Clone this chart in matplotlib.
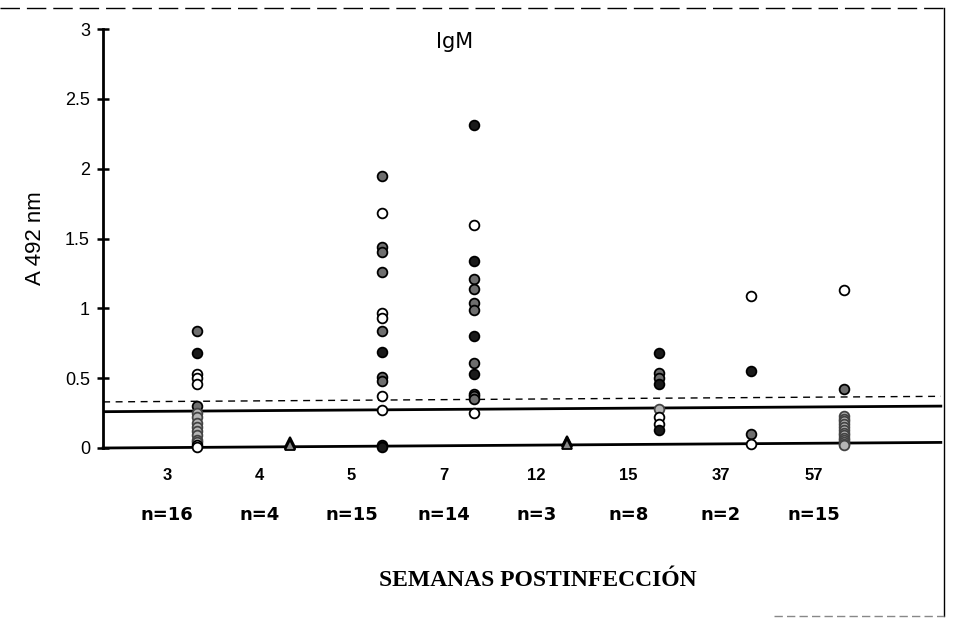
import matplotlib.pyplot as plt
from matplotlib.lines import Line2D

# weeks after infection, with group sizes
weeks = ['3', '4', '5', '7', '12', '15', '37', '57']
n_labels = ['n=16', 'n=4', 'n=15', 'n=14', 'n=3', 'n=8', 'n=2', 'n=15']

# absorbance values per week; kind: d=dark, h=hatched, o=open, g=grey, t=triangle
w3_vals = [0.84, 0.68, 0.53, 0.50, 0.46, 0.30, 0.25, 0.22, 0.18, 0.15, 0.12, 0.09, 0.06, 0.04, 0.02, 0.01]
w3_kind = ['h', 'd', 'o', 'o', 'o', 'h', 'g', 'g', 'g', 'g', 'g', 'g', 'g', 'g', 'o', 'o']
w4_vals = [0.04, 0.03, 0.03, 0.02]
w4_kind = ['t', 't', 't', 't']
w5_vals = [1.95, 1.68, 1.44, 1.40, 1.26, 0.97, 0.93, 0.84, 0.69, 0.51, 0.48, 0.37, 0.27, 0.02, 0.01]
w5_kind = ['h', 'o', 'h', 'h', 'h', 'o', 'o', 'h', 'd', 'h', 'h', 'o', 'o', 'd', 'd']
w7_vals = [2.31, 1.60, 1.34, 1.21, 1.14, 1.04, 0.99, 0.80, 0.61, 0.53, 0.39, 0.37, 0.35, 0.25]
w7_kind = ['d', 'o', 'd', 'h', 'h', 'h', 'h', 'd', 'h', 'd', 'h', 'h', 'h', 'o']
w12_vals = [0.05, 0.04, 0.03]
w12_kind = ['t', 't', 't']
w15_vals = [0.68, 0.54, 0.50, 0.46, 0.28, 0.22, 0.17, 0.13]
w15_kind = ['d', 'h', 'h', 'd', 'g', 'o', 'o', 'd']
w37_vals = [1.09, 0.55, 0.10, 0.03]
w37_kind = ['o', 'd', 'h', 'o']
w57_vals = [1.13, 0.42, 0.23, 0.21, 0.19, 0.17, 0.15, 0.13, 0.11, 0.09, 0.07, 0.06, 0.04, 0.03, 0.02]
w57_kind = ['o', 'h', 'g', 'g', 'g', 'g', 'g', 'g', 'g', 'g', 'g', 'g', 'g', 'g', 'g']

all_vals = [w3_vals, w4_vals, w5_vals, w7_vals, w12_vals, w15_vals, w37_vals, w57_vals]
all_kind = [w3_kind, w4_kind, w5_kind, w7_kind, w12_kind, w15_kind, w37_kind, w57_kind]

# cut-off lines (left end, right end)
cut_dashed = [0.33, 0.37]
cut_solid = [0.26, 0.30]
baseline = [0.0, 0.04]

styles = {
    'd': dict(marker='o', mfc='#1a1a1a', mec='black'),
    'h': dict(marker='o', mfc='#6e6e6e', mec='black'),
    'o': dict(marker='o', mfc='white', mec='black'),
    'g': dict(marker='o', mfc='#b5b5b5', mec='#444444'),
    't': dict(marker='^', mfc='#8a8a8a', mec='black'),
}

fig = plt.figure(figsize=(9.55, 6.25), dpi=100)
ax = fig.add_axes([0.108, 0.2832, 0.882, 0.6704])
x0, x1 = -1.02, 8.10
ax.set_xlim(x0, x1)
ax.set_ylim(0, 3)

xl = [x0, 8.05]
ax.plot(xl, cut_dashed, color='black', lw=1.0, ls=(0, (5, 4)), zorder=1)
ax.plot(xl, cut_solid, color='black', lw=2.0, zorder=1)
ax.plot(xl, baseline, color='black', lw=2.0, zorder=1, clip_on=False)

for i, (vals, kinds) in enumerate(zip(all_vals, all_kind)):
    for v, k in zip(vals, kinds):
        ax.plot(i, v, ls='none', ms=7, mew=1.3, zorder=3, clip_on=False, **styles[k])

for s in ['top', 'right', 'bottom']:
    ax.spines[s].set_visible(False)
ax.spines['left'].set_linewidth(2.0)
ax.set_yticks([0, 0.5, 1, 1.5, 2, 2.5, 3])
ax.set_yticklabels(['0', '0.5', '1', '1.5', '2', '2.5', '3'], fontsize=13,
                   fontfamily='Liberation Sans')
ax.tick_params(axis='y', direction='inout', length=9, width=1.8, pad=5)
ax.set_xticks([])
ax.set_ylabel('A 492 nm', fontsize=16, fontfamily='Liberation Sans', labelpad=14)

# week labels and group sizes under each column
for i, (w, n) in enumerate(zip(weeks, n_labels)):
    ax.text(i - 0.33, -0.2, w, ha='center', va='center', fontsize=12,
            fontweight='bold', fontfamily='Liberation Sans')
    ax.text(i - 0.33, -0.48, n, ha='center', va='center', fontsize=13,
            fontweight='bold', fontfamily='DejaVu Sans')

ax.text(2.78, 2.91, 'IgM', ha='center', va='center', fontsize=15,
        fontfamily='DejaVu Sans')
fig.text(0.563, 0.072, 'SEMANAS POSTINFECCIÓN', ha='center', va='center',
         fontsize=17, fontweight='bold', fontfamily='Liberation Serif')

# scanned frame around the figure
fig.add_artist(Line2D([0.0, 0.99], [0.988, 0.988], color='black', lw=1.0, ls=(0, (14, 5))))
fig.add_artist(Line2D([0.989, 0.989], [0.015, 0.988], color='black', lw=1.0))
fig.add_artist(Line2D([0.81, 0.989], [0.015, 0.015], color='#888888', lw=1.0, ls=(0, (6, 3))))

fig.savefig('out.png', dpi=100)
